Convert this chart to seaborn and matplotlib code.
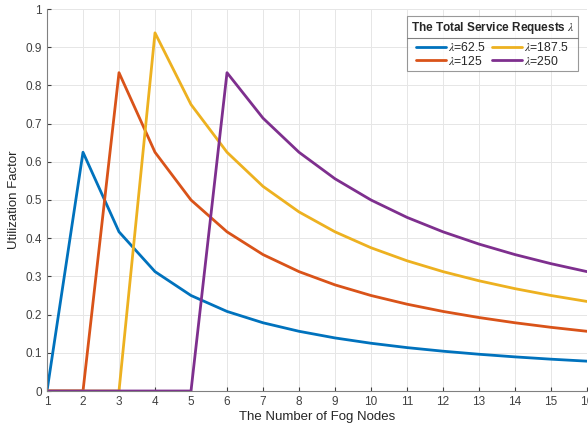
import pandas as pd
import matplotlib
matplotlib.use('Agg')
import matplotlib.pyplot as plt
from matplotlib.lines import Line2D
import seaborn as sns

nodos = list(range(1, 17))
u_62 = [0, 0.625, 0.4167, 0.3125, 0.25, 0.2083, 0.1786, 0.1563, 0.1389, 0.125, 0.1136, 0.1042, 0.0962, 0.0893, 0.0833, 0.0781]
u_125 = [0, 0, 0.8333, 0.625, 0.5, 0.4167, 0.3571, 0.3125, 0.2778, 0.25, 0.2273, 0.2083, 0.1923, 0.1786, 0.1667, 0.1563]
u_187 = [0, 0, 0, 0.9375, 0.75, 0.625, 0.5357, 0.4688, 0.4167, 0.375, 0.3409, 0.3125, 0.2885, 0.2679, 0.25, 0.2344]
u_250 = [0, 0, 0, 0, 0, 0.8333, 0.7143, 0.625, 0.5556, 0.5, 0.4545, 0.4167, 0.3846, 0.3571, 0.3333, 0.3125]
etiquetas = ['$\\lambda$=62.5', '$\\lambda$=125', '$\\lambda$=187.5', '$\\lambda$=250']
colores = ['#0072BD', '#D95319', '#EDB120', '#7E2F8E']

df = pd.concat([
    pd.DataFrame({'nodos': nodos, 'u': u, 'serie': e})
    for u, e in zip([u_62, u_125, u_187, u_250], etiquetas)
])

sns.set_style('whitegrid')
plt.rcParams['font.family'] = ['Liberation Sans', 'DejaVu Sans']
plt.rcParams['mathtext.fontset'] = 'stix'

fig = plt.figure(figsize=(5.88, 4.29), dpi=100)
ax = fig.add_axes([47 / 588, 1 - 391 / 429, 540 / 588, 382 / 429])
sns.lineplot(data=df, x='nodos', y='u', hue='serie', palette=colores, linewidth=2, ax=ax)

ax.set_xlim(1, 16)
ax.set_ylim(0, 1)
ax.set_xticks(nodos)
ax.set_yticks([0, 0.1, 0.2, 0.3, 0.4, 0.5, 0.6, 0.7, 0.8, 0.9, 1])
ax.set_yticklabels(['0', '0.1', '0.2', '0.3', '0.4', '0.5', '0.6', '0.7', '0.8', '0.9', '1'])
ax.grid(True, color='#e6e6e6', linewidth=0.7)
for s in ['top', 'right']:
    ax.spines[s].set_visible(False)
for s in ['left', 'bottom']:
    ax.spines[s].set_color('#808080')
    ax.spines[s].set_linewidth(0.8)
ax.tick_params(direction='in', length=3, colors='#404040', labelsize=8.5, left=True, bottom=True)
ax.set_xlabel('The Number of Fog Nodes', fontsize=9.5, color='#262626', labelpad=2)
ax.set_ylabel('Utilization Factor', fontsize=9.5, color='#262626', labelpad=4)

leg = ax.legend(ncol=2, loc='upper right', bbox_to_anchor=(0.995, 0.998), fontsize=8.8,
                title='The Total Service Requests $\\lambda$', frameon=True, fancybox=False,
                handlelength=2.4, columnspacing=0.5, handletextpad=0.2, labelspacing=0.05,
                borderpad=0.3)
leg.get_title().set_fontweight('bold')
leg.get_title().set_fontsize(8.5)
leg._legend_box.sep = 4
leg.get_frame().set_edgecolor('#808080')
leg.get_frame().set_linewidth(0.8)

# linea bajo el titulo de la leyenda
fig.canvas.draw()
r = fig.canvas.get_renderer()
caja = leg.get_frame().get_window_extent(r)
tit = leg.get_title().get_window_extent(r)
y = (tit.y0 - 2) / fig.bbox.height
fig.add_artist(Line2D([caja.x0 / fig.bbox.width, caja.x1 / fig.bbox.width], [y, y],
                      color='#808080', linewidth=0.8))

plt.savefig('out.png', dpi=100)
